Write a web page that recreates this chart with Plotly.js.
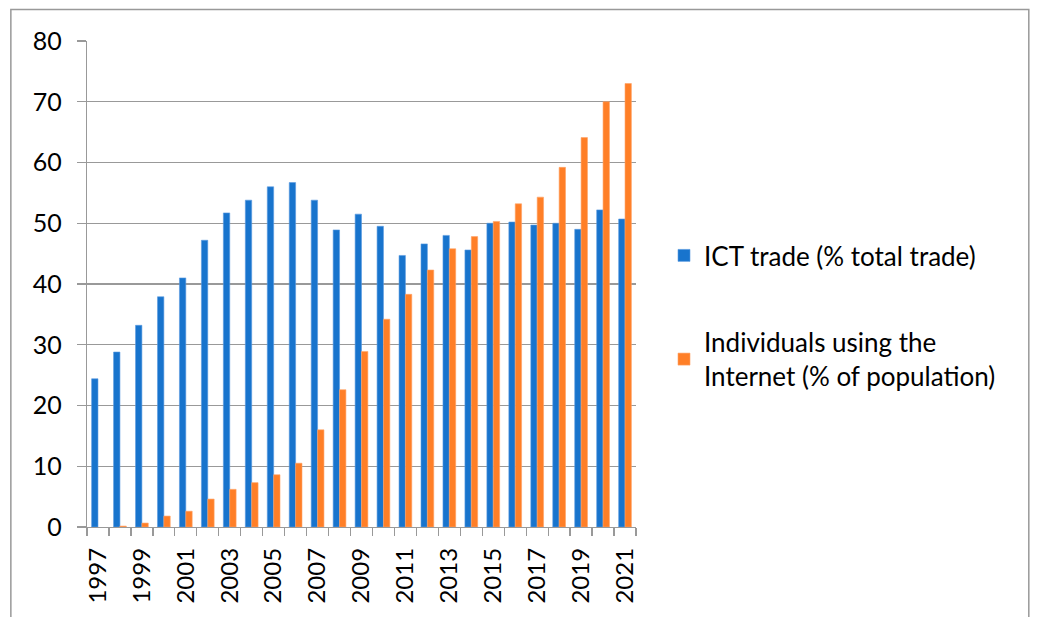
<!DOCTYPE html>
<html>
<head>
<meta charset="utf-8">
<script src="https://cdn.plot.ly/plotly-3.0.1.min.js"></script>
<style>html,body{margin:0;padding:0;background:#fff;}#chart{width:1038px;height:617px;}</style>
</head>
<body>
<div id="chart"></div>
<script>
const years = [1997,1998,1999,2000,2001,2002,2003,2004,2005,2006,2007,2008,2009,2010,2011,2012,2013,2014,2015,2016,2017,2018,2019,2020,2021];
const ictTrade = [24.4,28.8,33.2,37.9,41.0,47.2,51.7,53.8,56.0,56.7,53.8,48.9,51.5,49.5,44.7,46.6,48.0,45.6,50.0,50.2,49.7,50.0,49.0,52.2,50.7];
const internetUsers = [null,0.15,0.65,1.8,2.6,4.6,6.2,7.3,8.6,10.5,16.0,22.6,28.9,34.2,38.3,42.3,45.8,47.8,50.3,53.2,54.3,59.2,64.1,70.0,73.0];
const tickYears = [1997,1999,2001,2003,2005,2007,2009,2011,2013,2015,2017,2019,2021];
const seriesNames = ['ICT trade (% total trade)', 'Individuals using the<br>Internet (% of population)'];

const font = 'Lato, "Open Sans", sans-serif';
const traces = [
  {type:'bar', x:years, y:ictTrade, name:seriesNames[0], legendgroup:'a',
   marker:{color:'#1874CD', line:{color:'#5A9BE0', width:0.6}}},
  {type:'bar', x:years, y:internetUsers, name:seriesNames[1], legendgroup:'b',
   marker:{color:'#FF7F27', line:{color:'#FFA366', width:0.6}}}
];
const layout = {
  width:1038, height:617,
  margin:{l:87, r:402, t:41, b:90, pad:0},
  paper_bgcolor:'#ffffff', plot_bgcolor:'#ffffff',
  font:{family:font, size:24, color:'#000'},
  barmode:'group', bargap:0.42, bargroupgap:0,
  showlegend:true,
  legend:{x:1 + 28/549, y:0.607, xanchor:'left', yanchor:'top', font:{family:font, size:26, color:'#000'},
          traceorder:'grouped', tracegroupgap:50, bgcolor:'rgba(0,0,0,0)'},
  xaxis:{type:'linear', range:[1996.5, 2021.5], tickmode:'array', tickvals:tickYears,
         ticktext:tickYears.map(String), tickangle:-90, ticks:'', showgrid:false,
         showline:true, linecolor:'#999', linewidth:1.3, zeroline:false,
         tickfont:{family:font, size:24, color:'#000'}, ticklabelstandoff:10,
         minor:{ticks:'outside', tickmode:'linear', tick0:1996.5, dtick:1, ticklen:8, tickcolor:'#999', tickwidth:1.3, showgrid:false},
         fixedrange:true},
  yaxis:{range:[0,80], tickvals:[0,10,20,30,40,50,60,70,80], ticks:'outside', ticklen:9, tickcolor:'#999', tickwidth:1.3,
         showgrid:true, gridcolor:'#999', gridwidth:1.3, showline:true, linecolor:'#999', linewidth:1.3,
         zeroline:false, tickfont:{family:font, size:25, color:'#000'}, ticklabelstandoff:10, fixedrange:true},
  shapes:[{type:'rect', xref:'paper', yref:'paper', x0:-0.1387, x1:1.7155, y0:-0.20, y1:1.0648,
           line:{color:'#999', width:1.5}, fillcolor:'rgba(0,0,0,0)', layer:'below'}]
};
Plotly.newPlot('chart', traces, layout, {displayModeBar:false, staticPlot:true});
</script>
</body>
</html>
